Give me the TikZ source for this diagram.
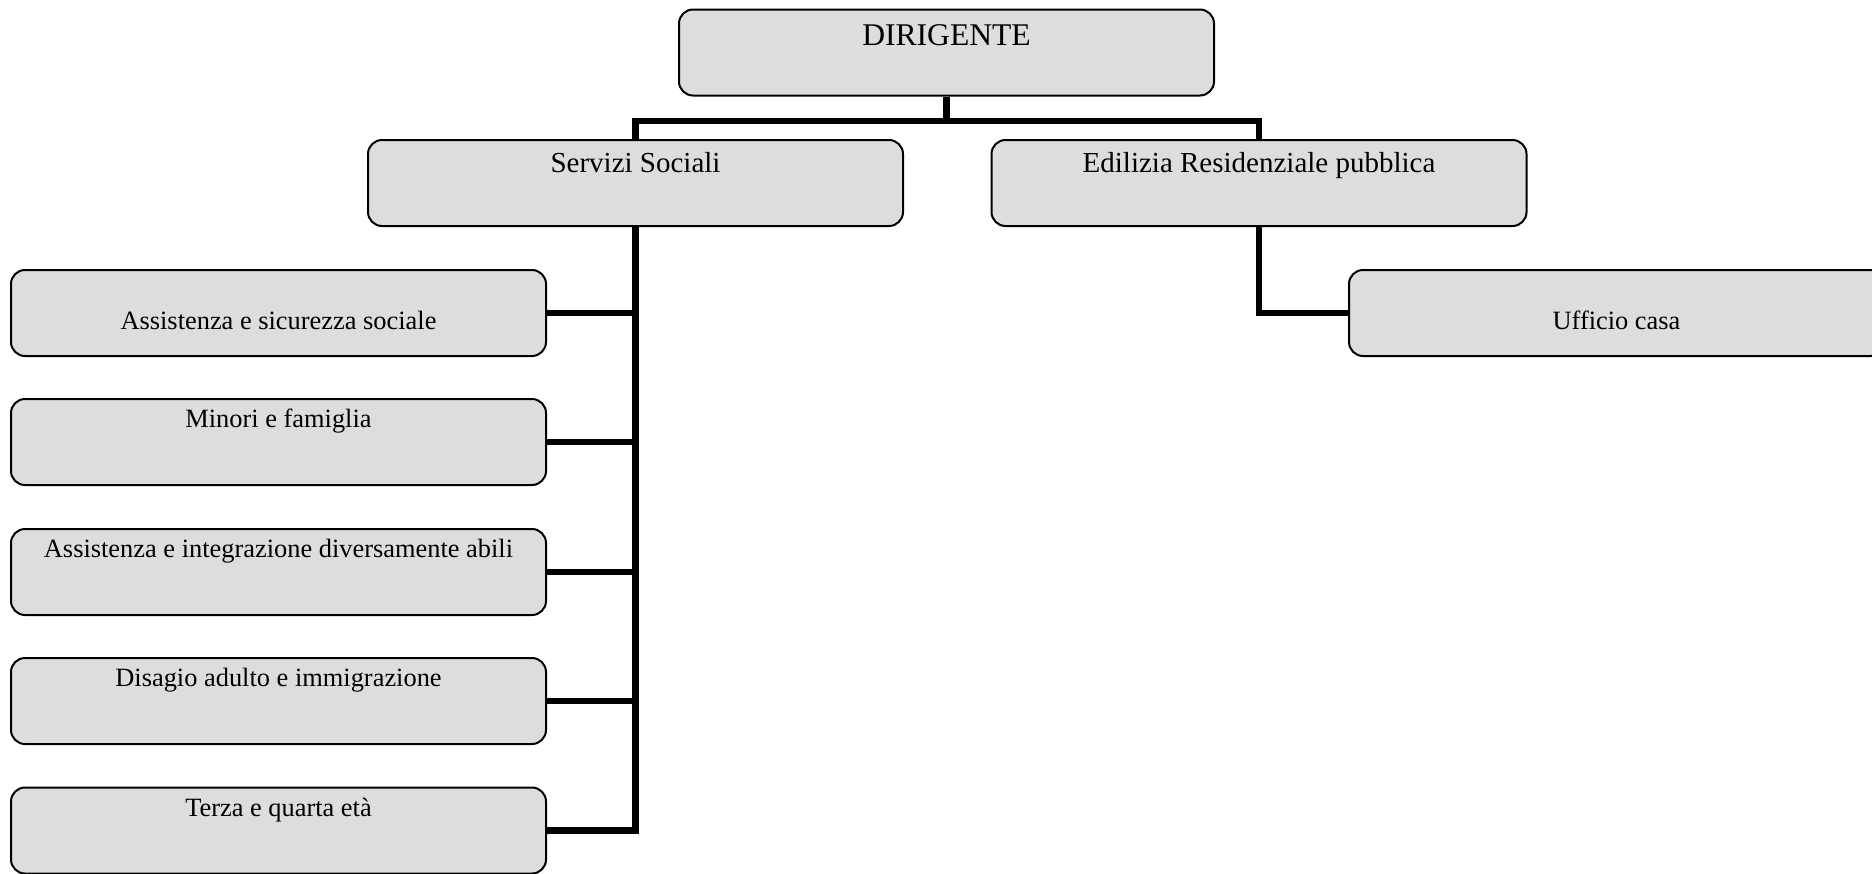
\documentclass[tikz,border=0pt]{standalone}
\usepackage{fontspec}
\setmainfont{Liberation Serif}
\definecolor{boxgray}{HTML}{DDDDDD}
\begin{document}
\begin{tikzpicture}[x=0.5pt,y=-0.5pt,
  box/.style={draw=black, line width=1pt, fill=boxgray, rounded corners=7pt,
    minimum width=267.5pt, minimum height=43pt, inner sep=0pt},
  conn/.style={draw=black, line width=3.1pt, line join=miter, line cap=butt},
  big/.style={font=\fontsize{15.8}{18}\selectfont, anchor=base, inner sep=0pt},
  mid/.style={font=\fontsize{14.5}{17}\selectfont, anchor=base, inner sep=0pt},
  small/.style={font=\fontsize{13.2}{15}\selectfont, anchor=base, inner sep=0pt}]
\useasboundingbox (0,0) rectangle (1872,873);
\coordinate (hub) at (947,121);
\node[box] (dir) at (946.5,52.5) {};
\node[box] (serv) at (635.5,183) {};
\node[box] (edil) at (1259,183) {};
\node[box] (a1) at (278.5,313) {};
\node[box] (a2) at (278.5,442) {};
\node[box] (a3) at (278.5,572) {};
\node[box] (a4) at (278.5,701) {};
\node[box] (a5) at (278.5,830.5) {};
\node[box] (uff) at (1616.5,313) {};
\draw[conn] (dir.south) -- ([yshift=-1.55pt]dir.south |- hub);
\draw[conn] (serv.north) -- (serv.north |- hub) -- (edil.north |- hub) -- (edil.north);
\draw[conn] (serv.south) -- (serv.south |- a5.east) -- (a5.east);
\draw[conn] (a1.east) -- (a1.east -| serv.south);
\draw[conn] (a2.east) -- (a2.east -| serv.south);
\draw[conn] (a3.east) -- (a3.east -| serv.south);
\draw[conn] (a4.east) -- (a4.east -| serv.south);
\draw[conn] (edil.south) -- (edil.south |- uff.west) -- (uff.west);
% texts
\node[big] (tdir) at ([yshift=-18.5pt]dir.north) {DIRIGENTE};
\node[mid] (tserv) at ([yshift=-16.6pt]serv.north) {Servizi Sociali};
\node[mid] (tedil) at ([yshift=-16.6pt]edil.north) {Edilizia Residenziale pubblica};
\node[small] (ta1) at ([yshift=-30.3pt]a1.north) {Assistenza e sicurezza sociale};
\node[small] (ta2) at ([yshift=-14.9pt]a2.north) {Minori e famiglia};
\node[small] (ta3) at ([yshift=-14.9pt]a3.north) {Assistenza e integrazione diversamente abili};
\node[small] (ta4) at ([yshift=-14.9pt]a4.north) {Disagio adulto e immigrazione};
\node[small] (ta5) at ([yshift=-14.9pt]a5.north) {Terza e quarta età};
\node[small] (tuff) at ([yshift=-30.3pt]uff.north) {Ufficio casa};
\end{tikzpicture}
\end{document}
